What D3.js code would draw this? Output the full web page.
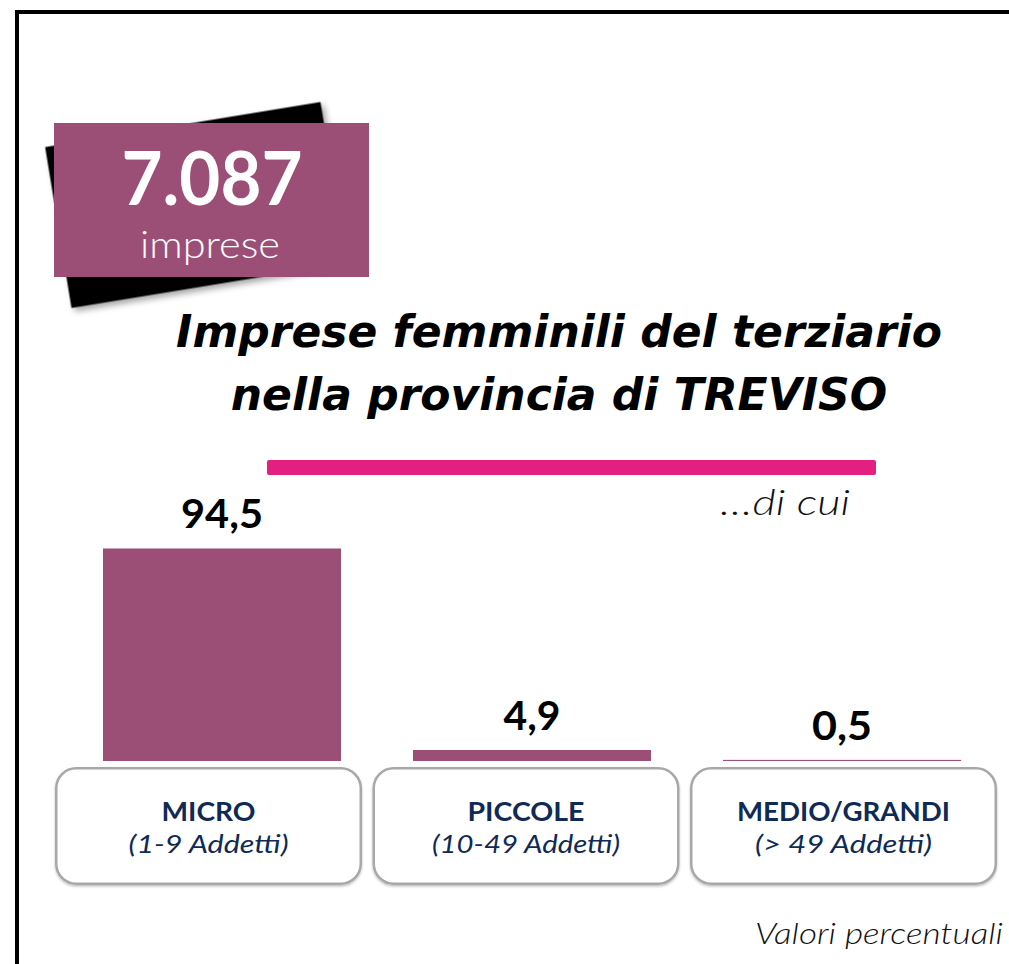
<!DOCTYPE html>
<html lang="it">
<head>
<meta charset="utf-8">
<title>Imprese femminili del terziario – Treviso</title>
<script src="https://cdn.jsdelivr.net/npm/d3@7/dist/d3.min.js"></script>
<style>
  html, body { margin: 0; padding: 0; background: #ffffff; }
  svg { display: block; }
</style>
</head>
<body>
<div id="chart"></div>
<script>
// Company size classes and their share (%) of female-owned tertiary firms
const categories = ["MICRO", "PICCOLE", "MEDIO/GRANDI"];
const subLabels = ["(1-9 Addetti)", "(10-49 Addetti)", "(> 49 Addetti)"];
const values = [94.5, 4.9, 0.5];
const totalFirms = 7087;

const titleLines = ["Imprese femminili del terziario", "nella provincia di TREVISO"];
const noteText = "…di cui";
const unitText = "Valori percentuali";

const W = 1009, H = 964;
const PURPLE = "#9c4f76";
const PINK = "#e3207f";
const NAVY = "#0e2a55";
const FONT = "'Lato', 'Noto Sans', 'DejaVu Sans', sans-serif";
const TITLE_FONT = "'DejaVu Sans', 'Liberation Sans', sans-serif";

// Rendered widths used to stretch the narrower fallback font to the wide geometric look
const catTextWidth = [94, 117, 213];
const subTextWidth = [160, 188, 177];
const valueTextWidth = [82, 57, 60];

// Italian number formatting: comma decimals, dot thousands
const it = d3.formatLocale({ decimal: ",", thousands: ".", grouping: [3], currency: ["", " €"] });
const fmtPct = it.format(".1f");
const fmtInt = it.format(",d");

const svg = d3.select("#chart").append("svg")
  .attr("width", W).attr("height", H).attr("viewBox", `0 0 ${W} ${H}`);

const defs = svg.append("defs");
const shadow = defs.append("filter").attr("id", "shadow")
  .attr("x", "-10%").attr("y", "-10%").attr("width", "130%").attr("height", "140%");
shadow.append("feDropShadow").attr("dx", 3).attr("dy", 4).attr("stdDeviation", 3)
  .attr("flood-color", "#000").attr("flood-opacity", 0.35);
const boxShadow = defs.append("filter").attr("id", "boxShadow")
  .attr("x", "-5%").attr("y", "-5%").attr("width", "110%").attr("height", "115%");
boxShadow.append("feDropShadow").attr("dx", 0).attr("dy", 1.5).attr("stdDeviation", 1)
  .attr("flood-color", "#000").attr("flood-opacity", 0.25);

// Frame (top and left edges)
svg.append("path")
  .attr("d", `M17,${H} V12 H${W}`)
  .attr("fill", "none").attr("stroke", "#000").attr("stroke-width", 4);

// Total-count badge: tilted black card behind a purple tag
svg.append("rect")
  .attr("x", -139.5).attr("y", -81.5).attr("width", 279).attr("height", 163)
  .attr("transform", "translate(196,205) rotate(-9.3)")
  .attr("fill", "#000").attr("filter", "url(#shadow)");
svg.append("rect")
  .attr("x", 54).attr("y", 123).attr("width", 315).attr("height", 154)
  .attr("fill", PURPLE);
svg.append("text")
  .attr("x", 212).attr("y", 205).attr("text-anchor", "middle")
  .attr("font-family", FONT).attr("font-weight", 700).attr("font-size", 74)
  .attr("textLength", 181).attr("lengthAdjust", "spacingAndGlyphs")
  .attr("fill", "#fff").text(fmtInt(totalFirms));
svg.append("text")
  .attr("x", 210).attr("y", 258).attr("text-anchor", "middle")
  .attr("font-family", FONT).attr("font-weight", 300).attr("font-size", 38)
  .attr("textLength", 140).attr("lengthAdjust", "spacingAndGlyphs")
  .attr("fill", "#fff").text("imprese");

// Title
svg.append("g").selectAll("text").data(titleLines).join("text")
  .attr("x", 559).attr("y", (d, i) => 347 + i * 63)
  .attr("text-anchor", "middle")
  .attr("font-family", TITLE_FONT).attr("font-weight", 700).attr("font-style", "italic")
  .attr("font-size", 44).attr("fill", "#000")
  .text(d => d);

// Accent rule under the title
svg.append("rect")
  .attr("x", 267).attr("y", 460).attr("width", 609).attr("height", 15).attr("rx", 2)
  .attr("fill", PINK);

svg.append("text")
  .attr("x", 850).attr("y", 515).attr("text-anchor", "end")
  .attr("font-family", FONT).attr("font-style", "italic").attr("font-weight", 300)
  .attr("font-size", 36).attr("textLength", 130).attr("lengthAdjust", "spacingAndGlyphs")
  .attr("fill", "#111").text(noteText);

// Scales
const x = d3.scaleBand().domain(categories).range([67, 997])
  .paddingInner(72 / 310).paddingOuter(36 / 310);
const xBox = d3.scaleBand().domain(categories).range([55, 997]).paddingInner(10.5 / 317.5);
const y = d3.scaleLinear().domain([0, 100]).range([761, 761 - 224.9]);

// Bars
svg.append("g").selectAll("rect").data(values).join("rect")
  .attr("x", (d, i) => x(categories[i]))
  .attr("y", d => y(d))
  .attr("width", x.bandwidth())
  .attr("height", d => y(0) - y(d))
  .attr("fill", PURPLE);

// Value labels
svg.append("g").selectAll("text").data(values).join("text")
  .attr("x", (d, i) => x(categories[i]) + x.bandwidth() / 2)
  .attr("y", d => y(d) - 20)
  .attr("text-anchor", "middle")
  .attr("font-family", FONT).attr("font-weight", 700).attr("font-size", 40)
  .attr("textLength", (d, i) => valueTextWidth[i]).attr("lengthAdjust", "spacingAndGlyphs")
  .attr("fill", "#000")
  .text(d => fmtPct(d));

// Category boxes
const boxes = svg.append("g").selectAll("g").data(categories).join("g")
  .attr("transform", d => `translate(${xBox(d)},767)`);
boxes.append("rect")
  .attr("x", 1.25).attr("y", 1.25)
  .attr("width", xBox.bandwidth() - 2.5).attr("height", 115.5)
  .attr("rx", 20).attr("fill", "#fff")
  .attr("stroke", "#a8a8a8").attr("stroke-width", 2.5)
  .attr("filter", "url(#boxShadow)");
boxes.append("text")
  .attr("x", xBox.bandwidth() / 2).attr("y", 54)
  .attr("text-anchor", "middle")
  .attr("font-family", FONT).attr("font-weight", 700).attr("font-size", 26)
  .attr("textLength", (d, i) => catTextWidth[i]).attr("lengthAdjust", "spacingAndGlyphs")
  .attr("fill", NAVY).text(d => d);
boxes.append("text")
  .attr("x", xBox.bandwidth() / 2).attr("y", 86)
  .attr("text-anchor", "middle")
  .attr("font-family", FONT).attr("font-style", "italic").attr("font-size", 26)
  .attr("textLength", (d, i) => subTextWidth[i]).attr("lengthAdjust", "spacingAndGlyphs")
  .attr("fill", NAVY).text((d, i) => subLabels[i]);

// Unit note
svg.append("text")
  .attr("x", 1003).attr("y", 944).attr("text-anchor", "end")
  .attr("font-family", FONT).attr("font-style", "italic").attr("font-weight", 300)
  .attr("font-size", 29).attr("textLength", 248).attr("lengthAdjust", "spacingAndGlyphs")
  .attr("fill", "#111").text(unitText);
</script>
</body>
</html>
